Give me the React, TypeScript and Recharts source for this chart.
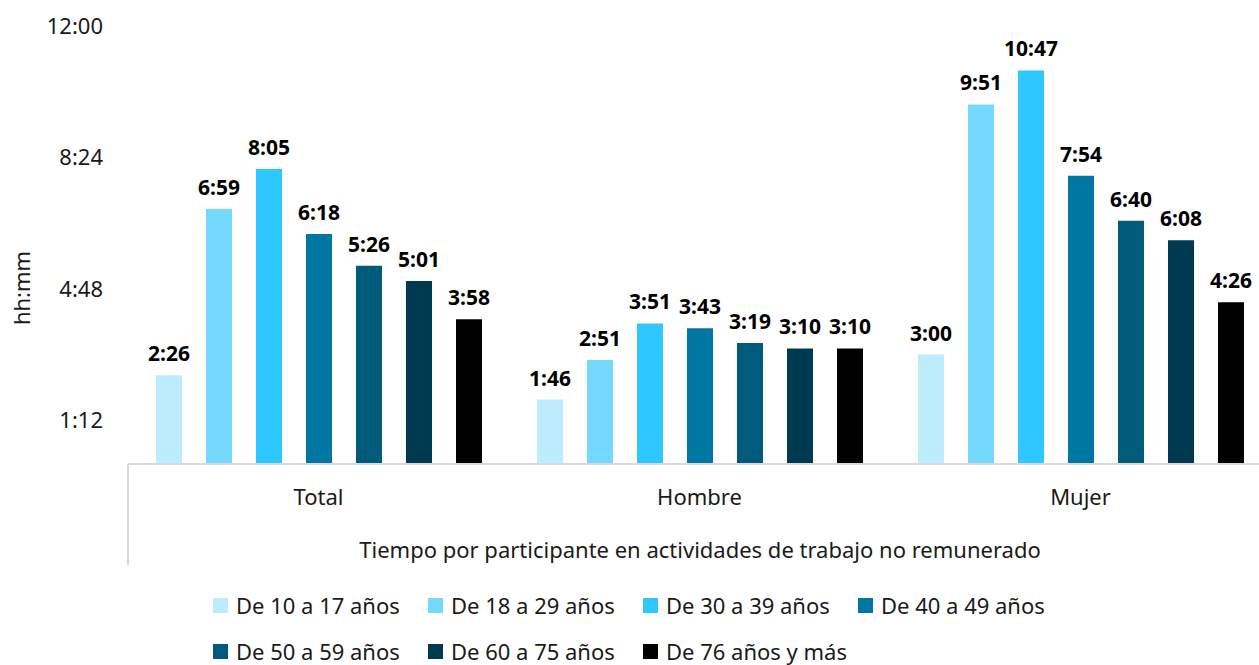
import { BarChart, Bar, XAxis, YAxis, LabelList } from 'recharts'

const categories = ['Total', 'Hombre', 'Mujer']
const ageGroups = [
  'De 10 a 17 años',
  'De 18 a 29 años',
  'De 30 a 39 años',
  'De 40 a 49 años',
  'De 50 a 59 años',
  'De 60 a 75 años',
  'De 76 años y más',
]
// minutes per participant, by category (Total, Hombre, Mujer)
const age10to17 = [146, 106, 180]
const age18to29 = [419, 171, 591]
const age30to39 = [485, 231, 647]
const age40to49 = [378, 223, 474]
const age50to59 = [326, 199, 400]
const age60to75 = [301, 190, 368]
const age76plus = [238, 190, 266]
const yTicks = [72, 288, 504, 720]

const series = [age10to17, age18to29, age30to39, age40to49, age50to59, age60to75, age76plus]
const COLORS = ['#bdecff', '#75d9ff', '#2ec7ff', '#0077a3', '#005a7a', '#003a50', '#000000']
const FONT = '"Noto Sans", "Open Sans", sans-serif'

const data = categories.map((name, i) => {
  const row: Record<string, string | number> = { name }
  series.forEach((s, k) => {
    row[`s${k}`] = s[i]
  })
  return row
})

const hhmm = (v: number) => {
  const h = Math.floor(v / 60)
  const m = Math.round(v % 60)
  return `${h}:${m < 10 ? '0' : ''}${m}`
}

export default function App() {
  return (
    <div style={{ position: 'absolute', left: 0, top: 0, width: 1259, height: 665, overflow: 'hidden', background: '#fff', fontFamily: FONT }}>
      <BarChart
        width={1271}
        height={665}
        data={data}
        margin={{ top: 26, right: 0, bottom: 100, left: 0 }}
        barSize={26}
        barGap={24}
      >
        <XAxis
          dataKey="name"
          axisLine={{ stroke: '#d9d9d9', strokeWidth: 2 }}
          tickLine={false}
          tickSize={0}
          tickMargin={25}
          height={101}
          tick={{ fontSize: 22, fill: '#1a1a1a', fontFamily: FONT }}
          label={{
            content: () => (
              <text x={700} y={558} textAnchor="middle" fontSize={22} fill="#1a1a1a" fontFamily={FONT}>
                Tiempo por participante en actividades de trabajo no remunerado
              </text>
            ),
          }}
        />
        <YAxis
          width={128}
          domain={[0, 720]}
          ticks={yTicks}
          tickFormatter={hhmm}
          axisLine={false}
          tickLine={false}
          tickSize={0}
          tickMargin={25}
          tick={{ fontSize: 22, fill: '#1a1a1a', fontFamily: FONT }}
          label={{
            content: () => (
              <text x={30} y={288} transform="rotate(-90 30 288)" textAnchor="middle" fontSize={22} fill="#1a1a1a" fontFamily={FONT}>
                hh:mm
              </text>
            ),
          }}
        />
        {series.map((_, k) => (
          <Bar key={k} dataKey={`s${k}`} name={ageGroups[k]} fill={COLORS[k]} isAnimationActive={false}>
            <LabelList
              dataKey={`s${k}`}
              position="top"
              offset={14}
              formatter={(v: any) => hhmm(Number(v))}
              style={{ fontSize: 21, fontWeight: 700, fill: '#000', fontFamily: FONT }}
            />
          </Bar>
        ))}
      </BarChart>
      <div style={{ position: 'absolute', left: 127, top: 464, width: 2, height: 101, background: '#d9d9d9' }} />
      <div
        style={{
          position: 'absolute',
          left: 213,
          top: 589,
          display: 'grid',
          gridTemplateColumns: 'repeat(4, 215px)',
          rowGap: 14,
          fontSize: 22,
          color: '#1a1a1a',
        }}
      >
        {ageGroups.map((g, k) => (
          <div key={g} style={{ display: 'flex', alignItems: 'center', height: 32, whiteSpace: 'nowrap' }}>
            <span style={{ width: 15, height: 15, background: COLORS[k], marginRight: 8, flex: 'none' }} />
            {g}
          </div>
        ))}
      </div>
    </div>
  )
}
